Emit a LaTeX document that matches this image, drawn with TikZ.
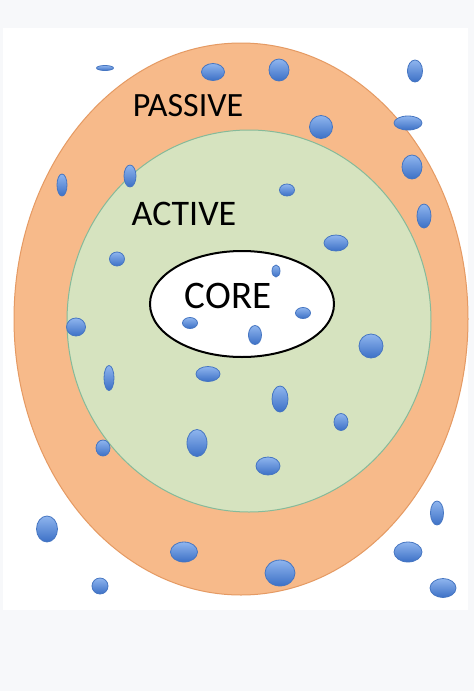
\documentclass[tikz,border=0pt]{standalone}
\usepackage{fontspec}
\setmainfont{Carlito}
\usetikzlibrary{shapes.geometric}
\definecolor{pagegray}{HTML}{F7F8FA}
\definecolor{passfill}{HTML}{F7BA8A}
\definecolor{passline}{HTML}{E59A63}
\definecolor{actfill}{HTML}{D6E3BF}
\definecolor{actline}{HTML}{86BA9A}
\definecolor{blobtop}{HTML}{8FB5EE}
\definecolor{blobbot}{HTML}{3C70C6}
\definecolor{blobline}{HTML}{4676C2}
\tikzset{
    zone/.style = {ellipse, inner sep=0pt},
    passive/.style = {zone, fill=passfill, draw=passline, line width=0.5pt},
    active/.style = {zone, fill=actfill, draw=actline, line width=0.5pt},
    core/.style = {zone, fill=white, draw=black, line width=1pt},
    blob/.style 2 args = {ellipse, inner sep=0pt, minimum width=#1pt, minimum height=#2pt,
                          top color=blobtop, bottom color=blobbot, draw=blobline, line width=0.4pt},
    label/.style = {inner sep=0pt, text=black}
}
\begin{document}
\begin{tikzpicture}[x=0.5pt, y=-0.5pt]
\useasboundingbox (0,0) rectangle (474,691);
\fill[pagegray] (0,0) rectangle (474,691);
\fill[white] (3,28) rectangle (468,610);
%
\node[passive, minimum width=227pt, minimum height=276pt] at (241,319) (pass) {};
\node[active, minimum width=182pt, minimum height=191pt] at (249,321) (act) {};
\node[core, minimum width=92pt, minimum height=53pt] at (242,304) (core) {};
%
\node[label, font=\fontsize{17}{20}\selectfont] at (188,106) (tpass) {PASSIVE};
\node[label, font=\fontsize{18}{21}\selectfont] at (184,214) (tact) {ACTIVE};
\node[label, font=\fontsize{19.5}{23}\selectfont] at (228,296) (tcore) {CORE};
%
\node[blob={8.5}{2.5}] at (105,68) (b1) {};
\node[blob={11.5}{8.5}] at (213,72) (b2) {};
\node[blob={10}{11}] at (279,70) (b3) {};
\node[blob={7.5}{11}] at (415,71) (b4) {};
\node[blob={11.5}{11.5}] at (321,127) (b5) {};
\node[blob={14}{7}] at (408,123) (b6) {};
\node[blob={10}{12}] at (412,167) (b7) {};
\node[blob={5}{11}] at (62,185) (b8) {};
\node[blob={6}{11}] at (130,176) (b9) {};
\node[blob={7.5}{6}] at (287,190) (b10) {};
\node[blob={7}{12}] at (424,216) (b11) {};
\node[blob={12}{8}] at (336,243) (b12) {};
\node[blob={7.5}{7}] at (117,259) (b13) {};
\node[blob={4}{6}] at (276,271) (b14) {};
\node[blob={7.5}{5.5}] at (303,313) (b15) {};
\node[blob={7.5}{5.5}] at (190,323) (b16) {};
\node[blob={6.5}{9.5}] at (255,335) (b17) {};
\node[blob={9.5}{9}] at (76,327) (b18) {};
\node[blob={12}{12}] at (371,346) (b19) {};
\node[blob={5}{12.5}] at (109,378) (b20) {};
\node[blob={12}{7.5}] at (208,374) (b21) {};
\node[blob={8}{13}] at (280,399) (b22) {};
\node[blob={7}{8.5}] at (341,422) (b23) {};
\node[blob={10}{13.5}] at (197,443) (b24) {};
\node[blob={7}{8}] at (103,448) (b25) {};
\node[blob={12}{9}] at (268,466) (b26) {};
\node[blob={10.5}{13}] at (47,529) (b27) {};
\node[blob={6.5}{12}] at (437,513) (b28) {};
\node[blob={13.5}{10}] at (184,552) (b29) {};
\node[blob={15}{13}] at (280,573) (b30) {};
\node[blob={14}{10}] at (408,552) (b31) {};
\node[blob={8}{8}] at (100,586) (b32) {};
\node[blob={13}{9.5}] at (443,588) (b33) {};
\end{tikzpicture}
\end{document}
